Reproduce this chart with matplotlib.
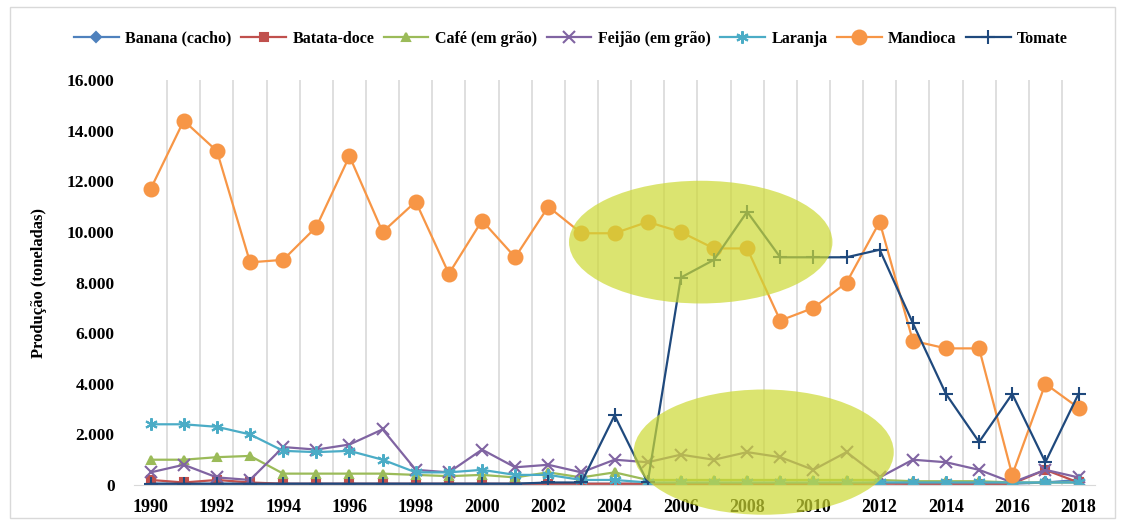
import matplotlib
matplotlib.use('Agg')
import matplotlib.pyplot as plt
from matplotlib.patches import Ellipse, Rectangle
from matplotlib.ticker import FuncFormatter

plt.rcParams['font.family'] = ['Liberation Serif', 'DejaVu Serif']
plt.rcParams['font.weight'] = 'bold'

anos = list(range(1990, 2019))

banana = [50, 50, 50, 50, 50, 50, 50, 50, 50, 50, 50, 50, 50, 50, 50, 50,
          50, 50, 50, 50, 50, 50, 100, 50, 50, 50, 50, 100, 200]
batata_doce = [200, 100, 200, 100, 50, 50, 50, 50, 50, 50, 50, 50, 50, 50, 50, 50,
               50, 50, 50, 50, 50, 50, 50, 50, 50, 50, 50, 600, 100]
cafe = [1000, 1000, 1100, 1150, 450, 450, 450, 450, 400, 350, 400, 300, 500, 300, 500, 200,
        200, 200, 200, 200, 200, 200, 200, 150, 150, 150, 100, 100, 100]
feijao = [500, 800, 300, 200, 1500, 1400, 1600, 2200, 600, 500, 1400, 700, 800, 500, 1000, 900,
          1200, 1000, 1300, 1100, 600, 1300, 300, 1000, 900, 600, 100, 600, 300]
laranja = [2400, 2400, 2300, 2000, 1350, 1300, 1350, 1000, 500, 500, 600, 400, 400, 200, 200, 100,
           100, 100, 100, 100, 100, 100, 100, 100, 100, 100, 100, 100, 100]
mandioca = [11700, 14400, 13200, 8800, 8900, 10200, 13000, 10000, 11200, 8350, 10450, 9000, 11000, 9950, 9950, 10400,
            10000, 9350, 9350, 6500, 7000, 8000, 10400, 5700, 5400, 5400, 400, 4000, 3050]
tomate = [50, 50, 50, 50, 50, 50, 50, 50, 50, 50, 50, 50, 100, 100, 2750, 100,
          8200, 8900, 10800, 9000, 9000, 9000, 9300, 6400, 3600, 1700, 3600, 900, 3600]

series = [
    ('Banana (cacho)', banana, '#4F81BD', 'D', 5),
    ('Batata-doce', batata_doce, '#C0504D', 's', 6),
    ('Café (em grão)', cafe, '#9BBB59', '^', 6),
    ('Feijão (em grão)', feijao, '#8064A2', 'x', 8),
    ('Laranja', laranja, '#4BACC6', (6, 2, 0), 9),
    ('Mandioca', mandioca, '#F79646', 'o', 10),
    ('Tomate', tomate, '#1F497D', '+', 10),
]

fig = plt.figure(figsize=(11.22, 5.31), dpi=100)
ax = fig.add_axes([0.1195, 0.0866, 0.8565, 0.7624])

for nome, vals, cor, mk, ms in series:
    ax.plot(anos, vals, color=cor, marker=mk, markersize=ms, linewidth=1.6,
            markeredgewidth=1.5, label=nome)

ax.set_xlim(1989.5, 2018.5)
ax.set_ylim(0, 16000)
ax.set_xticks(anos[::2])
ax.set_xticks([a + 0.5 for a in anos[:-1]], minor=True)
ax.set_yticks(range(0, 16001, 2000))
ax.yaxis.set_major_formatter(FuncFormatter(lambda v, p: f'{int(v):,}'.replace(',', '.')))
ax.grid(False)
ax.xaxis.grid(True, which='minor', color='#d9d9d9', linewidth=1.2)
ax.tick_params(axis='both', which='both', length=0)
ax.tick_params(axis='x', labelsize=13, pad=10)
ax.tick_params(axis='y', labelsize=12.5, pad=14)
for s in ['top', 'right', 'left']:
    ax.spines[s].set_visible(False)
ax.spines['bottom'].set_color('#d9d9d9')
ax.set_ylabel('Produção (toneladas)', fontsize=12, fontweight='bold', labelpad=14)

# destaques
ax.add_patch(Ellipse((2006.6, 9600), 7.95, 4850, facecolor='#cdd934', alpha=0.7,
                     edgecolor='none', zorder=5))
ax.add_patch(Ellipse((2008.5, 1300), 7.85, 4950, facecolor='#cdd934', alpha=0.7,
                     edgecolor='none', zorder=5, clip_on=False))

fig.legend(loc='center', bbox_to_anchor=(0.509, 0.927), ncol=7, frameon=False,
           fontsize=11.5, handlelength=2.8, columnspacing=0.6, handletextpad=0.4)

fig.patches.append(Rectangle((0.009, 0.025), 0.985, 0.962, transform=fig.transFigure,
                             fill=False, edgecolor='#d9d9d9', linewidth=1))

fig.savefig('out.png', dpi=100)
